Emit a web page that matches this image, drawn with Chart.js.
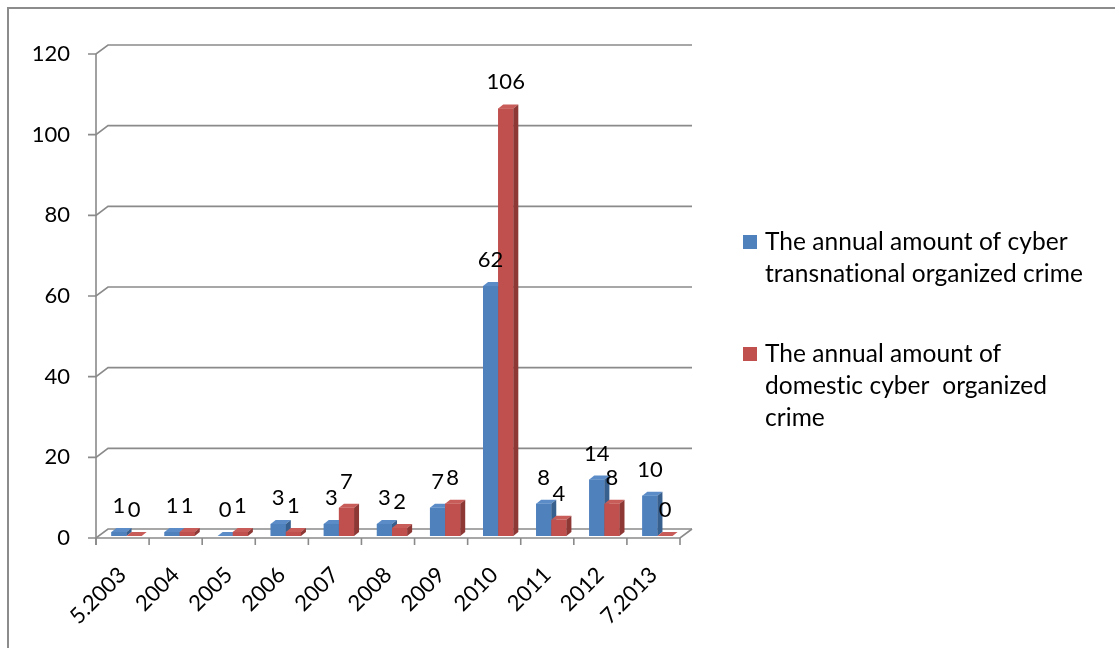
<!DOCTYPE html>
<html>
<head>
<meta charset="utf-8">
<title>Cyber organized crime by year</title>
<script src="https://cdn.jsdelivr.net/npm/chart.js@4.4.0/dist/chart.umd.min.js"></script>
<style>
  html, body { margin: 0; padding: 0; background: #fff; }
  canvas { display: block; }
</style>
</head>
<body>
<canvas id="crimeChart" width="1115" height="648"></canvas>
<script>
const years = ['5.2003', '2004', '2005', '2006', '2007', '2008', '2009', '2010', '2011', '2012', '7.2013'];
const transnational = [1, 1, 0, 3, 3, 3, 7, 62, 8, 14, 10];
const domestic = [0, 1, 1, 1, 7, 2, 8, 106, 4, 8, 0];
const yTicks = [0, 20, 40, 60, 80, 100, 120];
const seriesNames = [
  ['The annual amount of cyber', 'transnational organized crime'],
  ['The annual amount of', 'domestic cyber  organized', 'crime']
];

const frontColors = ['#4F81BD', '#C0504D'];
const topColors = ['#5B8CC8', '#C85C59'];
const sideColors = ['#38608F', '#8E3836'];
const lineGray = '#8a8a8a';
const FONT = 'Lato, "Open Sans", sans-serif';

// back wall sits up and to the right of the front plane
const wall = { dx: 12, dy: 9 };
const bar3d = { dx: 5, dy: 4 };
const barShift = { x: 4, y: -2 };

const frame = {
  id: 'frame',
  beforeDraw(chart) {
    const ctx = chart.ctx;
    ctx.save();
    ctx.strokeStyle = '#8c8c8c';
    ctx.lineWidth = 2;
    ctx.beginPath();
    ctx.moveTo(8, chart.height + 2);
    ctx.lineTo(8, 8);
    ctx.lineTo(chart.width + 2, 8);
    ctx.stroke();
    ctx.restore();
  }
};

const columns3d = {
  id: 'columns3d',
  beforeDatasetsDraw(chart) {
    const { ctx, chartArea: a, scales: { x, y } } = chart;
    ctx.save();
    ctx.strokeStyle = lineGray;
    ctx.lineWidth = 1.6;
    // tick marks plus gridlines on the back wall
    yTicks.forEach(v => {
      const py = y.getPixelForValue(v);
      ctx.beginPath();
      ctx.moveTo(a.left - 8, py);
      ctx.lineTo(a.left, py);
      ctx.lineTo(a.left + wall.dx, py - wall.dy);
      ctx.lineTo(a.right + wall.dx, py - wall.dy);
      ctx.stroke();
    });
    // value axis
    ctx.beginPath();
    ctx.moveTo(a.left, y.getPixelForValue(120));
    ctx.lineTo(a.left, a.bottom + 7);
    ctx.stroke();
    // front edge of the floor
    ctx.beginPath();
    ctx.moveTo(a.left, a.bottom);
    ctx.lineTo(a.right, a.bottom);
    ctx.lineTo(a.right + wall.dx, a.bottom - wall.dy);
    ctx.stroke();
    // category tick marks
    for (let i = 0; i <= years.length; i++) {
      const px = x.getPixelForValue(i - 0.5);
      ctx.beginPath();
      ctx.moveTo(px, a.bottom);
      ctx.lineTo(px, a.bottom + 7);
      ctx.stroke();
    }
    ctx.restore();

    ctx.save();
    ctx.translate(barShift.x, barShift.y);
  },
  afterDatasetsDraw(chart) {
    const ctx = chart.ctx;
    const metas = [chart.getDatasetMeta(0), chart.getDatasetMeta(1)];
    const values = [transnational, domestic];

    for (let i = 0; i < years.length; i++) {
      metas.forEach((meta, d) => {
        const { x: bx, y: by, base, width } = meta.data[i].getProps(['x', 'y', 'base', 'width'], true);
        const l = bx - width / 2;
        const r = bx + width / 2;
        ctx.fillStyle = frontColors[d];
        ctx.fillRect(l, by, width, base - by);
        ctx.fillStyle = topColors[d];
        ctx.beginPath();
        ctx.moveTo(l, by);
        ctx.lineTo(l + bar3d.dx, by - bar3d.dy);
        ctx.lineTo(r + bar3d.dx, by - bar3d.dy);
        ctx.lineTo(r, by);
        ctx.closePath();
        ctx.fill();
        ctx.fillStyle = sideColors[d];
        ctx.beginPath();
        ctx.moveTo(r, by);
        ctx.lineTo(r + bar3d.dx, by - bar3d.dy);
        ctx.lineTo(r + bar3d.dx, base - bar3d.dy);
        ctx.lineTo(r, base);
        ctx.closePath();
        ctx.fill();
      });
    }

    // value labels
    ctx.fillStyle = '#000';
    ctx.font = '22px ' + FONT;
    ctx.textAlign = 'center';
    ctx.textBaseline = 'alphabetic';
    metas.forEach((meta, d) => {
      meta.data.forEach((el, i) => {
        const { x: bx, y: by } = el.getProps(['x', 'y'], true);
        ctx.fillText(String(values[d][i]), bx, by - 19);
      });
    });
    ctx.restore();
  }
};

const sideLegend = {
  id: 'sideLegend',
  afterDraw(chart) {
    const ctx = chart.ctx;
    const tops = [242, 354];
    ctx.save();
    ctx.font = '24.5px ' + FONT;
    ctx.letterSpacing = '0.05px'; // keeps "ti" from turning into a ligature
    ctx.textAlign = 'left';
    ctx.textBaseline = 'middle';
    seriesNames.forEach((lines, d) => {
      ctx.fillStyle = frontColors[d];
      ctx.fillRect(743, tops[d] - 7, 14, 14);
      ctx.fillStyle = '#000';
      lines.forEach((t, k) => ctx.fillText(t, 765, tops[d] + k * 32));
    });
    ctx.restore();
  }
};

new Chart(document.getElementById('crimeChart'), {
  type: 'bar',
  data: {
    labels: years,
    datasets: [
      { label: seriesNames[0].join(' '), data: transnational, backgroundColor: frontColors[0] },
      { label: seriesNames[1].join(' '), data: domestic, backgroundColor: frontColors[1] }
    ]
  },
  options: {
    responsive: false,
    animation: false,
    layout: { padding: { left: 0, top: 54, right: 435, bottom: 0 } },
    datasets: { bar: { categoryPercentage: 0.57, barPercentage: 1 } },
    plugins: {
      legend: { display: false },
      tooltip: { enabled: false }
    },
    scales: {
      x: {
        grid: { display: false, drawTicks: false },
        border: { display: false },
        ticks: {
          color: '#000',
          font: { family: FONT, size: 22 },
          minRotation: 45,
          maxRotation: 45,
          labelOffset: 0,
          padding: 24
        },
        afterFit(scale) { scale.height = 110; }
      },
      y: {
        min: 0,
        max: 120,
        grid: { display: false, drawTicks: false },
        border: { display: false },
        ticks: {
          stepSize: 20,
          color: '#000',
          font: { family: FONT, size: 22 },
          padding: 26
        },
        afterFit(scale) { scale.width = 96; }
      }
    }
  },
  plugins: [frame, columns3d, sideLegend]
});
</script>
</body>
</html>
